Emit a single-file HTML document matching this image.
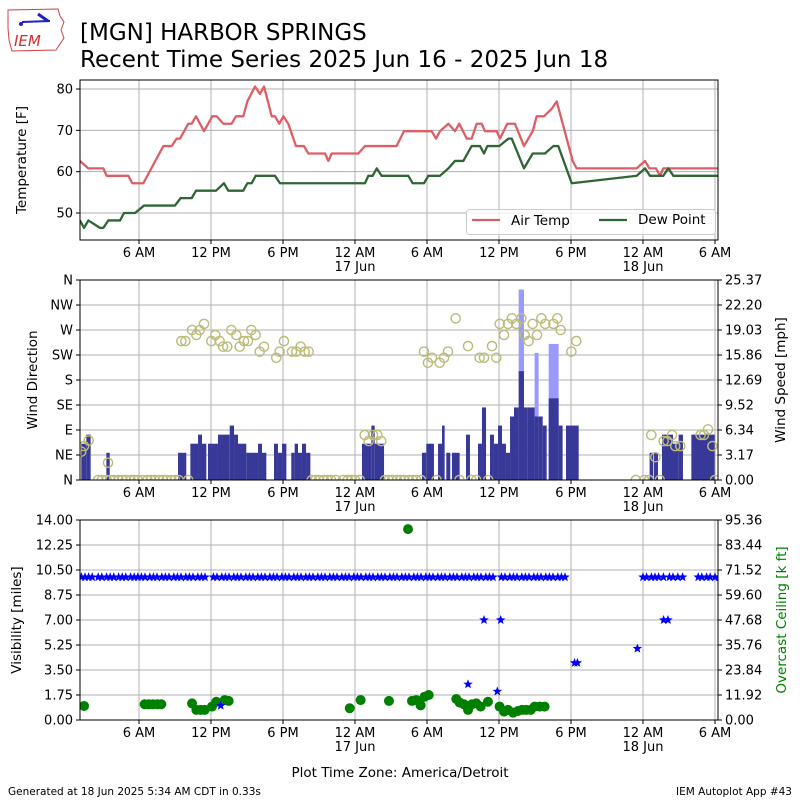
<!DOCTYPE html>
<html><head><meta charset="utf-8"><style>
html,body{margin:0;padding:0;background:#fff;}
svg text{font-family:"DejaVu Sans","Liberation Sans",sans-serif;}
</style></head><body>
<svg id="chart" xmlns="http://www.w3.org/2000/svg" width="800" height="800" viewBox="0 0 800 800">
<g>
<path d="M8,10 L58,9 L60,16 L64,22 L61,30 L64,38 L60,44 L56,50 L12,51 L9,40 L8,28 Z" fill="none" stroke="#d04040" stroke-width="1"/>
<line x1="22" y1="22" x2="50" y2="21" stroke="#2020c0" stroke-width="2"/>
<line x1="38" y1="14" x2="48" y2="21" stroke="#2020c0" stroke-width="3"/>
<circle cx="21" cy="24" r="2" fill="#2020c0"/>
<text x="14" y="46" font-family="Liberation Serif" font-style="italic" font-size="15" fill="#d03030">IEM</text>
</g>
<text x="80" y="40" font-size="23">[MGN] HARBOR SPRINGS</text>
<text x="80" y="67" font-size="23">Recent Time Series 2025 Jun 16 - 2025 Jun 18</text>
<g id="p1"></g><g id="p2"></g><g id="p3"></g>
<text x="400" y="777" font-size="13.5" text-anchor="middle">Plot Time Zone: America/Detroit</text>
<text x="8" y="795" font-size="10.5">Generated at 18 Jun 2025 5:34 AM CDT in 0.33s</text>
<text x="792" y="795" font-size="10.5" text-anchor="end">IEM Autoplot App #43</text>
</svg>
<script>
// ---------- data ----------
const tempHours=[1.08,1.78,3.03,3.3,5.11,5.44,6.36,8.03,8.72,9.14,9.42,10.11,10.39,10.75,11.42,12.11,12.47,13.03,13.72,14.08,14.69,15.03,15.67,16.08,16.42,17.06,17.33,17.69,18.03,18.44,19.08,19.75,20.11,21.5,21.78,22.06,24.28,24.83,27.47,28.08,30.39,30.75,31.08,31.78,32.33,32.69,33.31,33.72,34.14,34.56,34.83,35.81,36.08,36.69,37.33,38.08,38.81,39.14,39.75,40.39,40.81,42.14,42.47,47.47,48.17,48.53,49.08,49.42,49.69,54.42];
const tempValues=[62.6,60.8,60.8,59,59,57.2,57.2,66.2,66.2,68,68,71.6,71.6,73.4,69.8,73.4,73.4,71.6,71.6,73.4,73.4,77,80.6,78.8,80.6,73.4,73.4,71.6,73.4,71.6,66.2,66.2,64.4,64.4,62.6,64.4,64.4,66.2,66.2,69.8,69.8,68,69.8,71.6,69.8,71.6,68,68,71.6,71.6,69.8,69.8,68,71.6,71.6,66.2,69.8,73.4,73.4,75.2,77,62.6,60.8,60.8,62.6,60.8,60.8,59,60.8,60.8];
const dewHours=[1.08,1.42,1.78,2.75,3.03,3.44,4.42,4.75,5.67,6.42,9.0,9.47,10.39,10.75,12.42,13.08,13.44,14.69,15.03,15.39,15.72,17.33,17.75,24.83,25.11,25.47,25.81,26.22,27.75,28.44,28.81,29.75,30.11,31.08,31.78,32.33,33.03,33.72,34.42,34.75,35.03,36.03,36.78,37.06,38.08,38.81,39.83,40.53,40.94,42.06,47.47,48.17,48.58,49.69,50.11,50.53,54.42];
const dewValues=[48.2,46.4,48.2,46.4,46.4,48.2,48.2,50,50,51.8,51.8,53.6,53.6,55.4,55.4,57.2,55.4,55.4,57.2,57.2,59,59,57.2,57.2,59,59,60.8,59,59,59,57.2,57.2,59,59,60.8,62.6,62.6,66.2,66.2,64.4,66.2,66.2,68,68,60.8,64.4,64.4,66.2,66.2,57.2,59,60.8,59,59,60.8,59,59];
const barStart=[1.19,1.61,3.28,9.25,10.28,10.92,11.25,11.75,12.58,13.56,13.92,14.25,14.94,15.92,16.25,17.25,17.58,17.92,18.69,18.97,19.25,19.58,19.92,24.58,25.36,25.64,29.58,29.94,30.92,31.25,31.61,32.08,33.25,34.25,34.58,35.25,35.58,35.92,36.25,36.58,36.92,37.25,37.64,38.08,38.36,38.97,39.3,39.64,40.14,40.97,41.58,48.55,48.92,49.58,50.5,50.97,52.03];
const barEnd=[1.61,1.97,3.56,9.94,10.92,11.25,11.61,12.58,13.56,13.92,14.25,14.94,15.92,16.25,16.61,17.58,17.92,18.28,18.97,19.25,19.58,19.92,20.28,25.36,25.64,26.42,29.94,30.58,31.25,31.47,31.94,32.72,33.58,34.58,34.92,35.58,35.92,36.25,36.58,36.92,37.25,37.64,38.08,38.36,38.97,39.3,39.64,39.97,40.97,41.3,42.64,48.86,49.25,50.5,50.97,51.33,53.97];
const barSpeedKt=[4,5,3,3,4,5,4,4,5,6,5,4,3,4,3,4,3,4,3,4,3,4,3,4,6,4,3,4,4,6,3,3,5,4,8,5,4,6,4,3,7,8,12,8,8,7,7,6,9,6,6,3,3,5,4,5,5];
const gustStart=[37.64,38.97,40.14];
const gustEnd=[38.08,39.3,40.97];
const gustKt=[21,14,15];
const dirHours=[1.19,1.42,1.81,3.42,9.53,9.86,10.42,10.78,11.06,11.42,12.03,12.36,12.72,13.0,13.36,13.69,14.11,14.39,14.75,15.08,15.36,15.72,16.06,16.42,17.44,17.72,18.08,18.75,19.11,19.47,19.81,20.14,24.81,25.14,25.5,25.86,26.19,29.75,30.08,30.42,31.06,31.42,31.75,32.39,33.42,34.39,34.75,35.42,35.78,36.06,36.42,36.75,37.08,37.44,37.86,38.14,38.47,38.8,39.17,39.53,39.86,40.53,40.86,41.14,42.03,42.44,48.69,49.03,49.72,50.03,50.42,50.69,51.11,52.8,53.08,53.42,53.78,
2.6,2.9,3.3,3.6,3.9,4.3,4.6,4.9,5.3,5.6,5.9,6.3,6.7,7.0,7.3,7.7,8.0,8.3,8.7,9.0,9.3,10.1,20.4,20.7,21.0,21.4,21.7,22.0,22.4,23.0,23.4,23.7,24.0,24.4,26.5,26.8,27.1,27.5,27.8,28.1,28.5,28.8,29.1,29.5,30.8,32.7,33.7,34.1,35.1,47.4,48.1,48.5,49.4,54.0];
const dirValues=[51,61,71,31,250,250,270,261,270,281,250,261,250,240,240,270,261,240,250,250,270,261,231,240,220,231,250,231,231,240,231,231,81,70,81,81,70,231,211,220,211,220,231,291,241,220,220,241,220,281,261,281,291,281,291,261,250,281,261,291,281,281,291,270,231,250,81,41,70,70,81,61,61,81,81,91,61,
0,0,0,0,0,0,0,0,0,0,0,0,0,0,0,0,0,0,0,0,0,0,0,0,0,0,0,0,0,0,0,0,0,0,0,0,0,0,0,0,0,0,0,0,0,0,0,0,0,0,0,0,0,0];
const visHours=[12.81,33.42,34.75,36.14,35.86,42.3,42.53,47.53,49.72,50.08,
1.2,1.5,1.8,2.1,2.6,2.9,3.3,3.6,3.9,4.3,4.6,4.9,5.3,5.6,5.9,6.2,6.5,6.9,7.2,7.5,7.9,8.2,8.5,8.9,9.2,9.5,9.9,10.2,10.5,10.9,11.2,11.5,12.2,12.5,12.9,13.2,13.5,13.9,14.2,14.5,14.9,15.2,15.5,15.9,16.2,16.5,16.9,17.2,17.5,17.9,18.2,18.5,18.9,19.2,19.5,19.9,20.2,20.5,20.9,21.2,21.5,21.9,22.2,22.5,22.9,23.2,23.5,23.9,24.2,24.5,24.9,25.2,25.5,25.9,26.2,26.5,26.9,27.2,27.5,27.9,28.2,28.5,28.9,29.2,29.5,29.9,30.2,30.5,30.9,31.2,31.5,31.9,32.2,32.5,32.9,33.2,33.5,33.9,34.2,34.5,34.9,35.2,35.5,36.2,36.5,36.9,37.2,37.5,37.9,38.2,38.5,38.9,39.2,39.5,39.9,40.2,40.5,40.9,41.2,41.5,48.0,48.3,48.7,49.0,49.3,49.7,50.2,50.5,50.9,51.3,52.6,52.9,53.3,53.6,54.0,54.3];
const visValues=[1,2.5,7,7,2,4,4,5,7,7,
10,10,10,10,10,10,10,10,10,10,10,10,10,10,10,10,10,10,10,10,
10,10,10,10,10,10,10,10,10,10,10,10,10,10,10,10,10,10,10,10,
10,10,10,10,10,10,10,10,10,10,10,10,10,10,10,10,10,10,10,10,
10,10,10,10,10,10,10,10,10,10,10,10,10,10,10,10,10,10,10,10,
10,10,10,10,10,10,10,10,10,10,10,10,10,10,10,10,10,10,10,10,
10,10,10,10,10,10,10,10,10,10,10,10,10,10,10,10,10,10,10,10,
10,10,10,10,10,10,10,10,10,10,10,10,10,10,10,10,10,10,10,10];
const ceilHours=[1.42,6.47,6.81,7.17,7.53,7.86,10.42,10.78,11.14,11.47,12.08,12.44,13.14,13.47,23.56,24.47,26.83,28.42,28.75,29.11,29.47,29.8,30.14,32.44,32.72,33.08,33.42,33.75,34.11,34.47,35.08,36.05,36.42,36.75,37.17,37.58,37.92,38.27,38.64,38.97,39.39,39.8];
const ceilValues=[6.7,7.5,7.5,7.5,7.5,7.5,7.9,4.8,4.8,4.8,6.4,8.7,9.5,9.1,5.6,9.5,9.1,91,9.1,9.5,7.0,11.1,11.9,10.0,8.3,7.5,4.8,7.5,7.9,6.4,8.7,6.4,4.0,4.8,3.5,4.3,4.8,4.8,4.8,6.4,6.4,6.4];
const xTickHours=[6,12,18,24,30,36,42,48,54];
const xTickLabels=["6 AM","12 PM","6 PM","12 AM","6 AM","12 PM","6 PM","12 AM","6 AM"];
const xTickDates=["","","","17 Jun","","","","18 Jun",""];
const tempTicks=[50,60,70,80];
const dirTickLabels=["N","NE","E","SE","S","SW","W","NW","N"];
const speedTickLabels=["0.00","3.17","6.34","9.52","12.69","15.86","19.03","22.20","25.37"];
const visTickLabels=["0.00","1.75","3.50","5.25","7.00","8.75","10.50","12.25","14.00"];
const ceilTickLabels=["0.00","11.92","23.84","35.76","47.68","59.60","71.52","83.44","95.36"];

// ---------- scales ----------
const L=80,R=718;
const H0=1.083,H1=54.25;
function xs(h){return L+(h-H0)/(H1-H0)*(R-L);}
function yTemp(t){return 240-(t-43.47)/(82.18-43.47)*160;}
function yDir(d){return 480-d/360*200;}
function ySpd(mph){return 480-mph/25.37*200;}
function yVis(v){return 720-v/14*200;}
function yCeil(c){return 720-c/95.36*200;}
const NS="http://www.w3.org/2000/svg";
function mk(parent,tag,attrs,txt){const e=document.createElementNS(NS,tag);for(const k in attrs)e.setAttribute(k,attrs[k]);if(txt!==undefined)e.textContent=txt;parent.appendChild(e);return e;}
const svg=document.getElementById('chart');
let defs=mk(svg,'defs',{});
[['c1',80,160],['c2',280,200],['c3',520,200]].forEach(c=>{const cp=mk(defs,'clipPath',{id:c[0]});mk(cp,'rect',{x:L,y:c[1],width:R-L,height:c[2]});});

function xAxis(g,top,bot){
  xTickHours.forEach((h,i)=>{
    const x=xs(h);
    const gl=mk(g,'line',{x1:x,x2:x,y1:top,y2:bot,stroke:'#b0b0b0','stroke-width':1});
    
    
    mk(g,'line',{x1:x,x2:x,y1:bot,y2:bot+4,stroke:'#000','stroke-width':1});
    const t=mk(g,'text',{x:x,y:bot+17,'font-size':13,'text-anchor':'middle'},xTickLabels[i]);
    
    
    if(xTickDates[i]){const d=mk(g,'text',{x:x,y:bot+31,'font-size':13,'text-anchor':'middle'},xTickDates[i]);
      
      }
  });
}
function hGrid(g,ys){
  ys.forEach((y)=>{mk(g,'line',{x1:L,x2:R,y1:y,y2:y,stroke:'#b0b0b0','stroke-width':1});});
}
function yLabels(g,ys,labels,side){
  ys.forEach((y,i)=>{
    if(side==='l'){mk(g,'line',{x1:L-4,x2:L,y1:y,y2:y,stroke:'#000'});
      const t=mk(g,'text',{x:L-7,y:y+4.5,'font-size':13,'text-anchor':'end'},labels[i]);
      
      }
    else{mk(g,'line',{x1:R,x2:R+4,y1:y,y2:y,stroke:'#000'});
      const t=mk(g,'text',{x:R+7,y:y+4.5,'font-size':13,'text-anchor':'start'},labels[i]);
      
      }
  });
}
function frame(g,top,h){mk(g,'rect',{x:L,y:top,width:R-L,height:h,fill:'none',stroke:'#000','stroke-width':1});}
function rotLabel(g,x,y,txt,color,name){const t=mk(g,'text',{x:x,y:y,'font-size':13.5,'text-anchor':'middle',transform:`rotate(-90 ${x} ${y})`,fill:color||'#000'},txt);
  
  }
function star(g,cx,cy,r){if(isNaN(cy))return;let p=[];for(let i=0;i<10;i++){const a=-Math.PI/2+i*Math.PI/5;const rr=i%2?r*0.42:r;p.push((cx+rr*Math.cos(a)).toFixed(1)+','+(cy+rr*Math.sin(a)).toFixed(1));}
  const s=mk(g,'polygon',{points:p.join(' '),fill:'#0000ff'});
  
  }

// ---------- panel 1 ----------
const p1=document.getElementById('p1');


const t1=tempTicks.map(yTemp);
hGrid(p1,t1);xAxis(p1,80,240);
const d1=mk(p1,'g',{'clip-path':'url(#c1)'});
const tl=mk(d1,'polyline',{points:tempHours.map((h,i)=>xs(h)+','+yTemp(tempValues[i])).join(' '),fill:'none',stroke:'#dc5f66','stroke-width':2.3,'stroke-linejoin':'round'});


const dl=mk(d1,'polyline',{points:dewHours.map((h,i)=>xs(h)+','+yTemp(dewValues[i])).join(' '),fill:'none',stroke:'#2f6633','stroke-width':2.3,'stroke-linejoin':'round'});


frame(p1,80,160);yLabels(p1,t1,tempTicks.map(String),'l');
rotLabel(p1,26,160,'Temperature [F]',null,'temperature-axis-title');
const lg=mk(p1,'g',{});


mk(lg,'rect',{x:466.5,y:209.5,width:249,height:25,rx:3,fill:'#fff','fill-opacity':0.8,stroke:'#ccc'});
mk(lg,'line',{x1:472,x2:500,y1:220,y2:220,stroke:'#dc5f66','stroke-width':2.3});
const le1=mk(lg,'text',{x:511,y:225,'font-size':13.5},'Air Temp');


mk(lg,'line',{x1:599,x2:627,y1:220,y2:220,stroke:'#2f6633','stroke-width':2.3});
const le2=mk(lg,'text',{x:638,y:224,'font-size':13.5},'Dew Point');



// ---------- panel 2 ----------
const p2=document.getElementById('p2');


const t2=dirTickLabels.map((_,i)=>yDir(i*45));
hGrid(p2,t2);xAxis(p2,280,480);
const d2=mk(p2,'g',{'clip-path':'url(#c2)'});
gustStart.forEach((s,i)=>{const y=ySpd(gustKt[i]*1.15078);
  const r=mk(d2,'rect',{x:xs(s),y:y,width:xs(gustEnd[i])-xs(s),height:480-y,fill:'#9999ff'});
  
  });
barStart.forEach((s,i)=>{const y=ySpd(barSpeedKt[i]*1.15078);
  const r=mk(d2,'rect',{x:xs(s),y:y,width:xs(barEnd[i])-xs(s),height:480-y,fill:'#383898'});
  
  });
dirHours.forEach((h,i)=>{
  const c=mk(d2,'circle',{cx:xs(h),cy:yDir(dirValues[i]),r:4.6,fill:'none',stroke:'#bcbc7a','stroke-width':1.4});
  
  });
frame(p2,280,200);yLabels(p2,t2,dirTickLabels,'l');yLabels(p2,t2,speedTickLabels,'r');
rotLabel(p2,37,380,'Wind Direction',null,'wind-direction-axis-title');
rotLabel(p2,785,380,'Wind Speed [mph]',null,'wind-speed-axis-title');

// ---------- panel 3 ----------
const p3=document.getElementById('p3');


const t3=visTickLabels.map((_,i)=>yVis(i*1.75));
hGrid(p3,t3);xAxis(p3,520,720);
const d3=mk(p3,'g',{'clip-path':'url(#c3)'});
ceilHours.forEach((h,i)=>{
  const c=mk(d3,'circle',{cx:xs(h),cy:yCeil(ceilValues[i]),r:5,fill:'#008000'});
  
  });
visHours.forEach((h,i)=>star(d3,xs(h),yVis(visValues[i]),5));
frame(p3,520,200);yLabels(p3,t3,visTickLabels,'l');yLabels(p3,t3,ceilTickLabels,'r');
rotLabel(p3,21,620,'Visibility [miles]',null,'visibility-axis-title');
rotLabel(p3,786,620,'Overcast Ceiling [k ft]','#008000','ceiling-axis-title');
</script>
</body></html>
